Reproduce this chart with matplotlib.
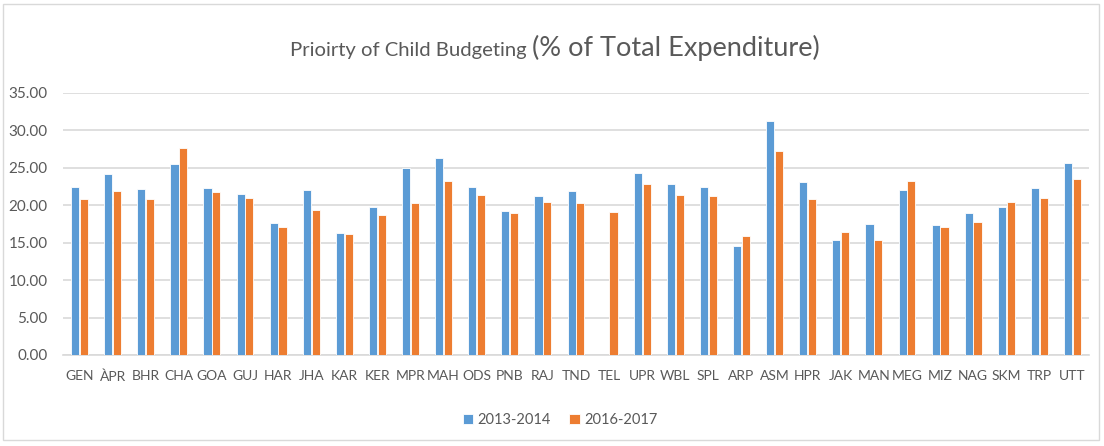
import matplotlib
matplotlib.use("Agg")
import matplotlib.pyplot as plt
import numpy as np
from matplotlib.patches import Rectangle

categories = ["GEN", "ÀPR", "BHR", "CHA", "GOA", "GUJ", "HAR", "JHA", "KAR", "KER",
              "MPR", "MAH", "ODS", "PNB", "RAJ", "TND", "TEL", "UPR", "WBL", "SPL",
              "ARP", "ASM", "HPR", "JAK", "MAN", "MEG", "MIZ", "NAG", "SKM", "TRP", "UTT"]
s2013 = [22.5, 24.2, 22.2, 25.5, 22.3, 21.5, 17.6, 22.0, 16.3, 19.75,
         25.0, 26.3, 22.4, 19.3, 21.3, 21.9, np.nan, 24.3, 22.8, 22.4,
         14.6, 31.2, 23.1, 15.3, 17.5, 22.0, 17.3, 19.0, 19.8, 22.3, 25.6]
s2016 = [20.9, 21.9, 20.9, 27.6, 21.8, 21.0, 17.1, 19.4, 16.2, 18.7,
         20.3, 23.2, 21.4, 19.0, 20.4, 20.3, 19.1, 22.8, 21.4, 21.2,
         15.9, 27.2, 20.8, 16.4, 15.3, 23.2, 17.1, 17.8, 20.4, 21.0, 23.5]
series_names = ["2013-2014", "2016-2017"]
yticks = [0, 5, 10, 15, 20, 25, 30, 35]

FONT = ["Lato", "DejaVu Sans"]
plt.rcParams["font.family"] = FONT
TXT = "#595959"
BLUE = "#5B9BD5"
ORANGE = "#ED7D31"

W, H = 1104, 446
fig = plt.figure(figsize=(W / 100, H / 100), dpi=100)
fig.patch.set_facecolor("white")
fig.patches.append(Rectangle((3 / W, 6 / H), 1096 / W, 436 / H, transform=fig.transFigure,
                             fill=False, edgecolor="#D9D9D9", linewidth=1))

ax = fig.add_axes([63 / W, 1 - 355 / H, (1089 - 63) / W, (355 - 93) / H])
x = np.arange(len(categories))
bw = 0.245
ax.bar(x - bw / 2 - 0.01, s2013, bw, color=BLUE, edgecolor="white", linewidth=0.6,
       label=series_names[0], zorder=3)
ax.bar(x + bw / 2 + 0.01, s2016, bw, color=ORANGE, edgecolor="white", linewidth=0.6,
       label=series_names[1], zorder=3)

ax.set_xlim(-0.5, len(categories) - 0.5)
ax.set_ylim(0, 35)
ax.set_yticks(yticks)
ax.set_yticklabels([f"{v:.2f}" for v in yticks])
ax.set_xticks(x)
ax.set_xticklabels(categories)
ax.yaxis.grid(True, color="#D9D9D9", linewidth=1.2, zorder=0)
ax.set_axisbelow(True)
for sp in ["top", "right", "left"]:
    ax.spines[sp].set_visible(False)
ax.spines["bottom"].set_color("#D9D9D9")
ax.spines["bottom"].set_linewidth(1.2)
ax.tick_params(axis="y", length=0, colors=TXT, labelsize=11, pad=11)
ax.tick_params(axis="x", length=0, colors=TXT, labelsize=10, pad=11)

leg = fig.legend(loc="center", bbox_to_anchor=(560 / W, 1 - 420 / H), ncol=2, frameon=False,
                 fontsize=10.5, handlelength=0.7, handleheight=0.7, handletextpad=0.3,
                 columnspacing=1.3)
for t in leg.get_texts():
    t.set_color(TXT)

# Title in two sizes
t1 = fig.text(0, 1 - 56 / H, "Prioirty of Child Budgeting ", fontsize=14.6, color=TXT,
              va="baseline", ha="left")
t2 = fig.text(0, 1 - 56 / H, "(% of Total Expenditure)", fontsize=19.5, color=TXT,
              va="baseline", ha="left")
fig.canvas.draw()
r = fig.canvas.get_renderer()
w1 = t1.get_window_extent(r).width
w2 = t2.get_window_extent(r).width
start = 555 - (w1 + w2) / 2
t1.set_x(start / W)
t2.set_x((start + w1) / W)

fig.savefig("out.png", dpi=100)
